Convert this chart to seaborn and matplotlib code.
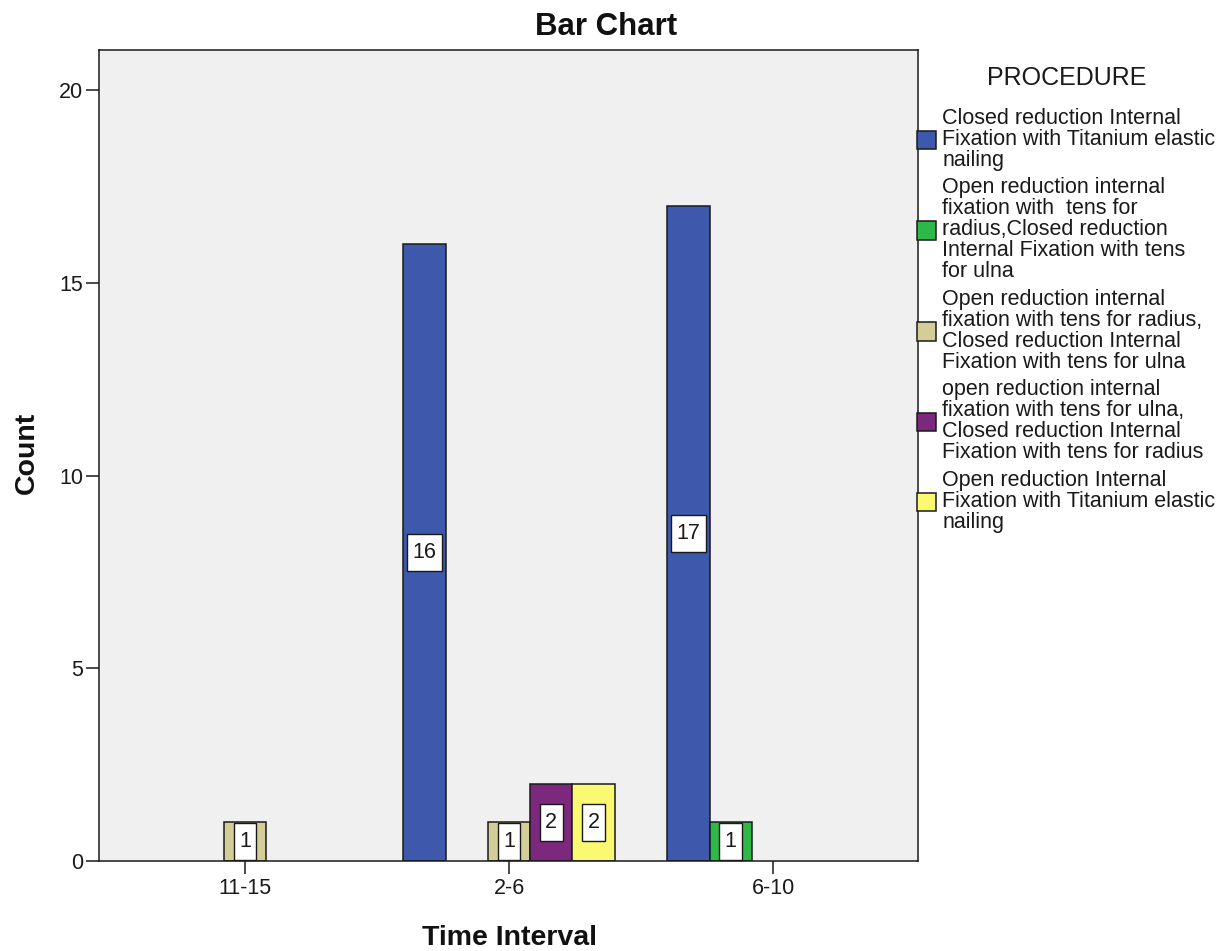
import numpy as np
import pandas as pd
import matplotlib
matplotlib.use("Agg")
import matplotlib.pyplot as plt
import matplotlib.patches as mpatches
from matplotlib.path import Path
import seaborn as sns

# ---- data ----
intervals = ["11-15", "2-6", "6-10"]

procedures = [
    "Closed reduction Internal\nFixation with Titanium elastic\nnailing",
    "Open reduction internal\nfixation with  tens for\nradius,Closed reduction\nInternal Fixation with tens\nfor ulna",
    "Open reduction internal\nfixation with tens for radius,\nClosed reduction Internal\nFixation with tens for ulna",
    "open reduction internal\nfixation with tens for ulna,\nClosed reduction Internal\nFixation with tens for radius",
    "Open reduction Internal\nFixation with Titanium elastic\nnailing",
]

# counts per procedure, in interval order (None = no cases)
crif_tens = [None, 16, 17]
orif_radius_crif_ulna_a = [None, None, 1]
orif_radius_crif_ulna_b = [1, 1, None]
orif_ulna_crif_radius = [None, 2, None]
orif_tens = [None, 2, None]

colors = ["#3E58AC", "#2EB848", "#D3CE97", "#7C287D", "#FBF872"]

series = [crif_tens, orif_radius_crif_ulna_a, orif_radius_crif_ulna_b,
          orif_ulna_crif_radius, orif_tens]
rows = []
for proc, vals in zip(procedures, series):
    for iv, v in zip(intervals, vals):
        if v is not None:
            rows.append({"Time Interval": iv, "PROCEDURE": proc, "Count": v})
df = pd.DataFrame(rows)

# ---- style ----
sns.set_theme(style="ticks")
plt.rcParams["font.family"] = ["Liberation Sans", "DejaVu Sans"]

W, H = 1229, 951
fig = plt.figure(figsize=(W / 100, H / 100), dpi=100)
ax_l, ax_r, ax_t, ax_b = 99, 918, 50, 861
ax = fig.add_axes([ax_l / W, 1 - ax_b / H, (ax_r - ax_l) / W, (ax_b - ax_t) / H])
ax.set_facecolor("#F0F0F0")

sns.barplot(
    data=df, x="Time Interval", y="Count", hue="PROCEDURE",
    order=intervals, hue_order=procedures, palette=colors,
    width=0.8, saturation=1, errorbar=None,
    edgecolor="#1a1a1a", linewidth=1.1, legend=False, ax=ax,
)

ax.set_xlim(-0.553, 2.549)
ax.set_ylim(0, 21.04)
ax.set_yticks([0, 5, 10, 15, 20])

for s in ax.spines.values():
    s.set_visible(True)
    s.set_linewidth(1.1)
    s.set_color("#1a1a1a")

ax.tick_params(axis="both", length=9.4, width=1.1, color="#1a1a1a",
               labelsize=15.5, labelcolor="#1a1a1a")
ax.tick_params(axis="x", pad=3)
ax.tick_params(axis="y", pad=2)


def label_box(x0, y0, width, height, mutation_size):
    """Rectangle with a little more vertical than horizontal padding."""
    px = 0.25 * mutation_size
    py = 0.37 * mutation_size
    x0, x1 = x0 - px, x0 + width + px
    y0, y1 = y0 - py, y0 + height + py
    return Path([(x0, y0), (x1, y0), (x1, y1), (x0, y1), (x0, y0)], closed=True)


# value boxes at mid-height of each bar
for cont in ax.containers:
    ax.bar_label(
        cont, fmt="%g", label_type="center", fontsize=15.5, color="#1a1a1a",
        bbox=dict(boxstyle=label_box, facecolor="white",
                  edgecolor="#1a1a1a", linewidth=1.0),
    )

ax.set_xlabel("")
ax.set_ylabel("")
fig.text(509 / W, 1 - 945 / H, "Time Interval", ha="center", va="baseline",
         fontsize=20.5, fontweight="bold", color="#111111")
fig.text(27 / W, 1 - 453 / H, "Count", ha="center", va="center",
         rotation=90, fontsize=20.5, fontweight="bold", color="#111111")
fig.text(606 / W, 1 - 35 / H, "Bar Chart", ha="center", va="baseline",
         fontsize=22.5, fontweight="bold", color="#111111")

# legend
fig.text(1067 / W, 1 - 85 / H, "PROCEDURE", ha="center", va="baseline",
         fontsize=18, color="#1a1a1a")
handles = [mpatches.Patch(facecolor=c, edgecolor="#1a1a1a", linewidth=1.1)
           for c in colors]
leg = fig.legend(
    handles, procedures, loc="upper left",
    bbox_to_anchor=(917 / W, 1 - 108 / H), frameon=False,
    borderpad=0, borderaxespad=0, fontsize=15.5,
    handlelength=0.88, handleheight=0.95, handletextpad=0.3,
    labelspacing=0.3,
)
for t in leg.get_texts():
    t.set_linespacing(1.0)
    t.set_color("#1a1a1a")

fig.savefig("out.png", dpi=100)
